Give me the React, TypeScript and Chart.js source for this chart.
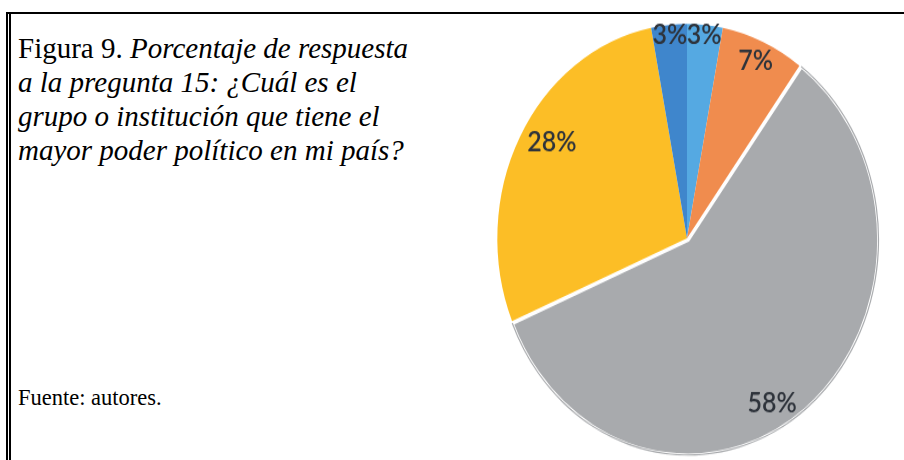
import React, { useEffect, useRef } from "react";
import { Chart, registerables } from "chart.js";

Chart.register(...registerables);

// Slices in clockwise order starting at 12 o'clock
const categories = ["Categoría 1", "Categoría 2", "Categoría 3", "Categoría 4", "Categoría 5"];
const values = [3, 7, 58, 28, 3];
const sliceLabels = ["3%", "7%", "58%", "28%", "3%"];
const sliceColors = ["#55A9E2", "#F08C4E", "#A8AAAD", "#FCBE26", "#3F86CC"];
const sliceOffsets = [0, 0, 6, 0, 0];
const sliceBorders = [0, 0, 2, 0, 0];
const labelRadius = [0.95, 0.9, 0.86, 0.84, 0.95];
const labelAngleShift = [0, 0, 8, 4, 0];

const labelPlugin = {
  id: "sliceLabels",
  afterDatasetsDraw(chart: any) {
    const ctx = chart.ctx;
    const meta = chart.getDatasetMeta(0);
    ctx.save();
    ctx.font = "600 25px Lato, 'Open Sans', sans-serif";
    ctx.fillStyle = "#2E333B";
    ctx.textAlign = "center";
    ctx.textBaseline = "middle";
    meta.data.forEach((arc: any, i: number) => {
      const p = arc.getProps(["x", "y", "startAngle", "endAngle", "outerRadius"], true);
      const mid = (p.startAngle + p.endAngle) / 2 + (labelAngleShift[i] * Math.PI) / 180;
      const r = p.outerRadius * labelRadius[i] + sliceOffsets[i];
      ctx.fillText(sliceLabels[i], p.x + Math.cos(mid) * r, p.y + Math.sin(mid) * r);
    });
    ctx.restore();
  },
};

function PieChart() {
  const ref = useRef<HTMLCanvasElement | null>(null);
  useEffect(() => {
    if (!ref.current) return;
    const chart = new Chart(ref.current, {
      type: "pie",
      data: {
        labels: categories,
        datasets: [
          {
            data: values,
            backgroundColor: sliceColors,
            borderColor: "#ffffff",
            borderWidth: sliceBorders,
            borderAlign: "inner",
            offset: sliceOffsets,
            radius: 190,
          } as any,
        ],
      },
      options: {
        responsive: true,
        maintainAspectRatio: false,
        animation: false,
        layout: { padding: 0 },
        plugins: {
          legend: { display: false },
          tooltip: { enabled: false },
        },
      },
      plugins: [labelPlugin],
    });
    return () => chart.destroy();
  }, []);
  return <canvas ref={ref} />;
}

export default function App() {
  return (
    <div
      style={{
        position: "absolute",
        left: 0,
        top: 0,
        width: 904,
        height: 460,
        overflow: "hidden",
        background: "#ffffff",
      }}
    >
      {/* frame */}
      <div style={{ position: "absolute", left: 6, top: 12, width: 898, height: 2, background: "#000" }} />
      <div style={{ position: "absolute", left: 6, top: 12, width: 1.5, height: 448, background: "#000" }} />
      <div style={{ position: "absolute", left: 9, top: 12, width: 1.5, height: 448, background: "#000" }} />

      {/* caption */}
      <div
        style={{
          position: "absolute",
          left: 18,
          top: 31,
          fontFamily: "'Liberation Serif', 'Times New Roman', serif",
          fontSize: 29,
          lineHeight: "34px",
          color: "#000",
          whiteSpace: "nowrap",
        }}
      >
        Figura 9. <i>Porcentaje de respuesta</i>
        <br />
        <i>a la pregunta 15: ¿Cuál es el</i>
        <br />
        <i>grupo o institución que tiene el</i>
        <br />
        <i>mayor poder político en mi país?</i>
      </div>
      <div
        style={{
          position: "absolute",
          left: 18,
          top: 385,
          fontFamily: "'Liberation Serif', 'Times New Roman', serif",
          fontSize: 22.5,
          lineHeight: "26px",
          color: "#000",
          whiteSpace: "nowrap",
        }}
      >
        Fuente: autores.
      </div>

      {/* pie */}
      <div
        style={{
          position: "absolute",
          left: 477,
          top: 1,
          width: 420,
          height: 420,
          transform: "scaleY(1.13)",
          transformOrigin: "top center",
        }}
      >
        <PieChart />
      </div>
    </div>
  );
}
